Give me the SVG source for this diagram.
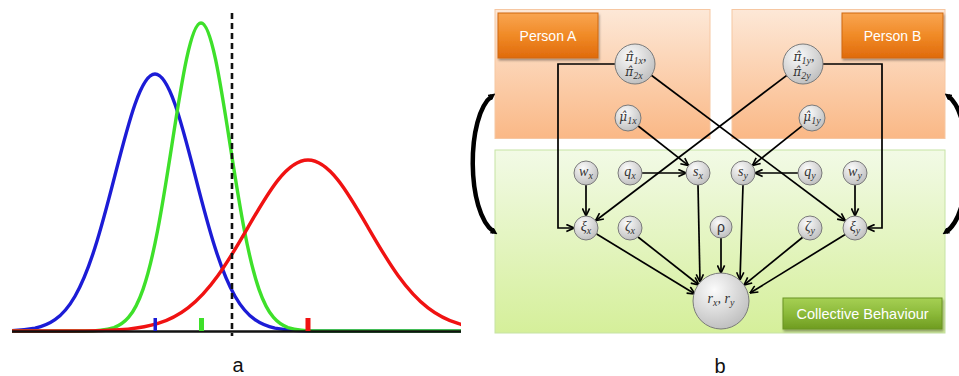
<svg xmlns="http://www.w3.org/2000/svg" xmlns:xlink="http://www.w3.org/1999/xlink" width="959" height="376" viewBox="0 0 959 376">
<style>
.curve{fill:none;stroke-width:3.4;stroke-linejoin:round}
.conn{fill:none;stroke:#000;stroke-width:1.7;marker-end:url(#arr)}
.node{fill:url(#gNode);stroke:#7a7a7a;stroke-width:1}
.nt{font-family:"Liberation Serif","DejaVu Serif",serif;font-style:italic;font-size:14px;fill:#333;text-anchor:middle}
.hat{font-family:"DejaVu Serif",serif;font-size:12px}
.sub{font-size:10px}
.btn{font-family:"Liberation Sans","Open Sans",sans-serif;fill:#fff;text-anchor:middle}
.lbl{font-family:"Liberation Sans","Open Sans",sans-serif;font-size:20px;fill:#111;text-anchor:middle}
.side{fill:none;stroke:#000;stroke-width:4.5;marker-start:url(#fat);marker-end:url(#fat)}
</style>
<defs>
<path id="gauss" vector-effect="non-scaling-stroke" d="M-10,0 L-4,0 C-3.6667,0 -3.3333,-0.002 -3,-0.0111 C-2.8333,-0.0167 -2.6667,-0.0256 -2.5,-0.0439 C-2.3333,-0.0622 -2.1667,-0.0902 -2,-0.1353 C-1.8333,-0.1804 -1.6667,-0.2435 -1.5,-0.3247 C-1.3333,-0.4059 -1.1667,-0.5054 -1,-0.6065 C-0.8333,-0.7076 -0.6667,-0.809 -0.5,-0.8825 C-0.3333,-0.956 -0.1667,-1 0,-1 C0.1667,-1 0.3333,-0.956 0.5,-0.8825 C0.6667,-0.809 0.8333,-0.7076 1,-0.6065 C1.1667,-0.5054 1.3333,-0.4059 1.5,-0.3247 C1.6667,-0.2435 1.8333,-0.1804 2,-0.1353 C2.1667,-0.0902 2.3333,-0.0622 2.5,-0.0439 C2.6667,-0.0256 2.8333,-0.0167 3,-0.0111 C3.3333,-0.002 3.6667,0 4,0 L10,0"/>
<clipPath id="clipA"><rect x="12" y="0" width="449" height="340"/></clipPath>
<linearGradient id="gOrange" x1="0" y1="0" x2="0" y2="1"><stop offset="0" stop-color="#fde8d7"/><stop offset="1" stop-color="#fab886"/></linearGradient>
<linearGradient id="gGreen" x1="0" y1="0" x2="0" y2="1"><stop offset="0" stop-color="#f2fae6"/><stop offset="1" stop-color="#d5ef9a"/></linearGradient>
<linearGradient id="gBtnO" x1="0" y1="0" x2="0" y2="1"><stop offset="0" stop-color="#f9a552"/><stop offset="0.5" stop-color="#f08a26"/><stop offset="1" stop-color="#e06a0c"/></linearGradient>
<linearGradient id="gBtnG" x1="0" y1="0" x2="0" y2="1"><stop offset="0" stop-color="#a6d054"/><stop offset="0.5" stop-color="#8cba3a"/><stop offset="1" stop-color="#6f9c20"/></linearGradient>
<radialGradient id="gNode" cx="0.38" cy="0.3" r="0.75"><stop offset="0" stop-color="#fbfbfb"/><stop offset="1" stop-color="#bdbdbd"/></radialGradient>
<marker id="arr" viewBox="0 0 10 10" refX="9.5" refY="5" markerWidth="9" markerHeight="9" markerUnits="userSpaceOnUse" orient="auto"><path d="M1,1 L9.5,5 L1,9" fill="none" stroke="#000" stroke-width="1.8"/></marker>
<marker id="fat" viewBox="0 0 10 10" refX="4" refY="5" markerWidth="7" markerHeight="7" markerUnits="userSpaceOnUse" orient="auto-start-reverse"><path d="M0,0 L10,5 L0,10 Z" fill="#000"/></marker>
<filter id="sh" x="-10%" y="-10%" width="130%" height="140%"><feDropShadow dx="1" dy="2" stdDeviation="1.2" flood-color="#000" flood-opacity="0.35"/></filter>
</defs>

<g id="panel-a">
  <g clip-path="url(#clipA)">
    <use xlink:href="#gauss" class="curve" stroke="#1c1cd6" transform="translate(155,331) scale(40,257)"/>
    <use xlink:href="#gauss" class="curve" stroke="#3ee02a" transform="translate(201,331) scale(29,308)"/>
    <use xlink:href="#gauss" class="curve" stroke="#f01212" transform="translate(308,331) scale(60,171)"/>
  </g>
  <line x1="12" y1="331.5" x2="461" y2="331.5" stroke="#111" stroke-width="2.4"/>
  <rect x="153.5" y="318" width="3.5" height="13" fill="#1c1cd6"/>
  <rect x="199" y="318" width="5" height="13" fill="#3ee02a"/>
  <rect x="305.5" y="318" width="5" height="13" fill="#f01212"/>
  <line x1="232" y1="13" x2="232" y2="336" stroke="#111" stroke-width="2.6" stroke-dasharray="6 4"/>
  <text class="lbl" x="238" y="372">a</text>
</g>

<g id="panel-b">
  <g id="box-personA"><rect x="495" y="9.5" width="215" height="129" fill="url(#gOrange)" stroke="#f6c7a2" stroke-width="1"/></g>
  <g id="box-personB"><rect x="732" y="9.5" width="213" height="129" fill="url(#gOrange)" stroke="#f6c7a2" stroke-width="1"/></g>
  <g id="box-collective"><rect x="495" y="150" width="450" height="183" fill="url(#gGreen)" stroke="#c6e3a4" stroke-width="1"/></g>

  <g id="btn-personA"><rect x="498" y="13" width="100" height="45" fill="url(#gBtnO)" stroke="#d0680e" stroke-width="1" filter="url(#sh)"/><text class="btn" x="548" y="41" font-size="14">Person A</text></g>
  <g id="btn-personB"><rect x="842" y="13" width="101" height="45" fill="url(#gBtnO)" stroke="#d0680e" stroke-width="1" filter="url(#sh)"/><text class="btn" x="892.5" y="41" font-size="14">Person B</text></g>
  <g id="btn-collective"><rect x="783" y="298" width="159" height="31" fill="url(#gBtnG)" stroke="#6a9422" stroke-width="1" filter="url(#sh)"/><text class="btn" x="862.5" y="319" font-size="14.5">Collective Behaviour</text></g>

  <g id="side-arrows">
    <path class="side" d="M492,96 C466,115 466,213 494,232"/>
    <path class="side" d="M948,96 C974,115 974,213 946,232"/>
  </g>

  <g id="connectors">
    <path class="conn" d="M615,64 H558 V228 H574"/>
    <path class="conn" d="M823,64 H882 V228 H867"/>
    <path class="conn" d="M651,75 L845.4,220.8"/>
    <path class="conn" d="M787.1,75.1 L595.6,220.7"/>
    <path class="conn" d="M638.2,126 L688.6,165.6"/>
    <path class="conn" d="M801.8,126.1 L752.4,165.5"/>
    <path class="conn" d="M586,185 V216"/>
    <path class="conn" d="M855,185 V216"/>
    <path class="conn" d="M642,173 H686"/>
    <path class="conn" d="M798,173 H755"/>
    <path class="conn" d="M698,185 L700,282"/>
    <path class="conn" d="M743,185 L740,280"/>
    <path class="conn" d="M721,238 V273"/>
    <path class="conn" d="M596.6,234 L695,294"/>
    <path class="conn" d="M638,237 L699,285"/>
    <path class="conn" d="M803,237 L744,285"/>
    <path class="conn" d="M846,234 L750,293"/>
  </g>

  <g id="node-pix"><circle class="node" cx="635" cy="64" r="20"/>
    <text class="nt" x="636" y="61"><tspan class="hat">π̂</tspan><tspan class="sub" dy="3">1x</tspan><tspan dy="-3">,</tspan></text>
    <text class="nt" x="634" y="76"><tspan class="hat">π̂</tspan><tspan class="sub" dy="3">2x</tspan></text></g>
  <g id="node-piy"><circle class="node" cx="803" cy="64" r="20"/>
    <text class="nt" x="804" y="61"><tspan class="hat">π̂</tspan><tspan class="sub" dy="3">1y</tspan><tspan dy="-3">,</tspan></text>
    <text class="nt" x="802" y="76"><tspan class="hat">π̂</tspan><tspan class="sub" dy="3">2y</tspan></text></g>
  <g id="node-mux"><circle class="node" cx="628" cy="118" r="13"/>
    <text class="nt" x="628" y="121"><tspan class="hat">μ̂</tspan><tspan class="sub" dy="3">1x</tspan></text></g>
  <g id="node-muy"><circle class="node" cx="812" cy="118" r="13"/>
    <text class="nt" x="812" y="121"><tspan class="hat">μ̂</tspan><tspan class="sub" dy="3">1y</tspan></text></g>
  <g id="node-wx"><circle class="node" cx="586" cy="173" r="12"/>
    <text class="nt" x="586" y="176">w<tspan class="sub" dy="3">x</tspan></text></g>
  <g id="node-qx"><circle class="node" cx="630" cy="173" r="12"/>
    <text class="nt" x="630" y="176">q<tspan class="sub" dy="3">x</tspan></text></g>
  <g id="node-sx"><circle class="node" cx="698" cy="173" r="12"/>
    <text class="nt" x="698" y="176">s<tspan class="sub" dy="3">x</tspan></text></g>
  <g id="node-sy"><circle class="node" cx="743" cy="173" r="12"/>
    <text class="nt" x="743" y="176">s<tspan class="sub" dy="3">y</tspan></text></g>
  <g id="node-qy"><circle class="node" cx="810" cy="173" r="12"/>
    <text class="nt" x="810" y="176">q<tspan class="sub" dy="3">y</tspan></text></g>
  <g id="node-wy"><circle class="node" cx="855" cy="173" r="12"/>
    <text class="nt" x="855" y="176">w<tspan class="sub" dy="3">y</tspan></text></g>
  <g id="node-xix"><circle class="node" cx="586" cy="228" r="12"/>
    <text class="nt" x="586" y="231">ξ<tspan class="sub" dy="3">x</tspan></text></g>
  <g id="node-zetax"><circle class="node" cx="630" cy="228" r="12"/>
    <text class="nt" x="630" y="231">ζ<tspan class="sub" dy="3">x</tspan></text></g>
  <g id="node-rho"><circle class="node" cx="721" cy="227" r="11"/>
    <text x="721" y="232" font-family="Liberation Sans, sans-serif" font-size="14" fill="#333" text-anchor="middle">ρ</text></g>
  <g id="node-zetay"><circle class="node" cx="810" cy="228" r="12"/>
    <text class="nt" x="810" y="231">ζ<tspan class="sub" dy="3">y</tspan></text></g>
  <g id="node-xiy"><circle class="node" cx="855" cy="228" r="12"/>
    <text class="nt" x="855" y="231">ξ<tspan class="sub" dy="3">y</tspan></text></g>
  <g id="node-r"><circle class="node" cx="721" cy="301" r="28"/>
    <text class="nt" x="721" y="303">r<tspan class="sub" dy="3">x</tspan><tspan dy="-3">, r</tspan><tspan class="sub" dy="3">y</tspan></text></g>

  <text class="lbl" x="720" y="373">b</text>
</g>
</svg>
